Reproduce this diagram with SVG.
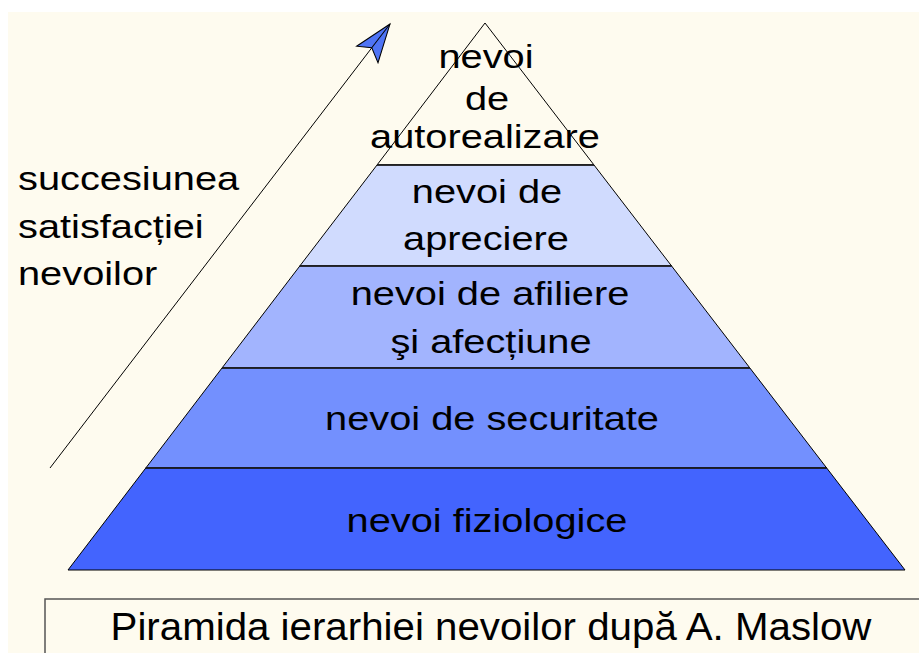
<svg xmlns="http://www.w3.org/2000/svg" width="919" height="653" viewBox="0 0 919 653">
<style>
  .t { font-family: "Liberation Sans", Arial, sans-serif; font-size: 34px; fill: #000; }
  .c { text-anchor: middle; }
  .band { stroke: #000; stroke-width: 1; stroke-linejoin: miter; }
  .div { stroke: #1a1a1a; stroke-width: 1.6; }
</style>
<defs>
  <marker id="ah" markerUnits="userSpaceOnUse" viewBox="0 0 40 40" refX="0" refY="0" markerWidth="40" markerHeight="40" orient="auto" overflow="visible">
    <polygon points="0,0 -38,-13 -30,0 -38,14" fill="#4f74f5" stroke="#000" stroke-width="1"/>
    <line x1="-30" y1="0" x2="0" y2="0" stroke="#000" stroke-width="1"/>
  </marker>
</defs>
<rect x="0" y="0" width="919" height="653" fill="#ffffff"/>
<rect x="8" y="12" width="911" height="641" fill="#fefbef"/>

<g id="pyramid">
  <g id="level-autorealizare">
    <polygon class="band" points="485,23 594,165 377,165" fill="#fefbef"/>
    <text class="t c" transform="translate(486,68) scale(1.17,1)">nevoi</text>
    <text class="t c" transform="translate(487,110) scale(1.17,1)">de</text>
    <text class="t c" transform="translate(485,148) scale(1.17,1)">autorealizare</text>
  </g>
  <g id="level-apreciere">
    <polygon class="band" points="377,165 594,165 671.6,266 299.8,266" fill="#d0dbfe"/>
    <text class="t c" transform="translate(487,203) scale(1.17,1)">nevoi de</text>
    <text class="t c" transform="translate(486,250) scale(1.17,1)">apreciere</text>
  </g>
  <g id="level-afiliere">
    <polygon class="band" points="299.8,266 671.6,266 749.9,368 222,368" fill="#a2b4fe"/>
    <text class="t c" transform="translate(490,305) scale(1.17,1)">nevoi de afiliere</text>
    <text class="t c" transform="translate(491,353) scale(1.17,1)">şi afecțiune</text>
  </g>
  <g id="level-securitate">
    <polygon class="band" points="222,368 749.9,368 826.7,468 145.8,468" fill="#7390fe"/>
    <text class="t c" transform="translate(492,430) scale(1.17,1)">nevoi de securitate</text>
  </g>
  <g id="level-fiziologice">
    <polygon class="band" points="145.8,468 826.7,468 905,570 68,570" fill="#4364fe"/>
    <text class="t c" transform="translate(487,532) scale(1.17,1)">nevoi fiziologice</text>
  </g>
  <g id="dividers">
    <line class="div" x1="377" y1="165" x2="594" y2="165"/>
    <line class="div" x1="299.8" y1="266" x2="671.6" y2="266"/>
    <line class="div" x1="222" y1="368" x2="749.9" y2="368"/>
    <line class="div" x1="145.8" y1="468" x2="826.7" y2="468"/>
  </g>
</g>

<g id="side-label">
  <text class="t" transform="translate(18,190) scale(1.17,1)">succesiunea</text>
  <text class="t" transform="translate(18,238) scale(1.17,1)">satisfacției</text>
  <text class="t" transform="translate(18,285) scale(1.17,1)">nevoilor</text>
</g>

<g id="connectors">
  <line x1="50" y1="468" x2="390" y2="24" stroke="#000" stroke-width="1" marker-end="url(#ah)"/>
</g>

<g id="caption">
  <rect x="45" y="599" width="880" height="60" fill="#fefbef" stroke="#555" stroke-width="1.5"/>
  <text class="t c" style="font-size:38px" transform="translate(491,640) scale(1.06,1)">Piramida ierarhiei nevoilor după A. Maslow</text>
</g>
</svg>
